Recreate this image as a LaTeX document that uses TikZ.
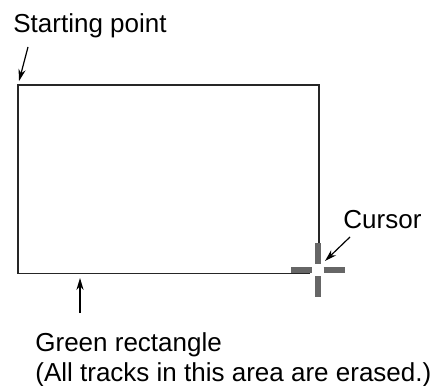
\documentclass[tikz,border=0pt]{standalone}
\usepackage{fontspec}
\setmainfont{Liberation Sans}
\usetikzlibrary{arrows.meta}

\begin{document}
\begin{tikzpicture}[x=0.5pt,y=-0.5pt,
  lbl/.style={font=\fontsize{13}{15}\selectfont,inner sep=0pt,anchor=base west,align=left},
  ptr/.style={-{Stealth[length=6pt,width=3.6pt]},line width=0.6pt},
  rim/.style={line width=0.75pt,black!85},
  bar/.style={line width=3pt,black!60}]
\useasboundingbox (0,0) rectangle (437,385);
% area corners
\coordinate (tl) at (18,85);
\coordinate (tr) at (319,85);
\coordinate (bl) at (18,273.5);
\coordinate (be) at (310,273.5);
\coordinate (re) at (319,262);
\coordinate (cur) at (317.5,270);
\draw[rim] (be) -- (bl) -- (tl) -- (tr) -- (re);
% cursor
\foreach \a in {0,90,180,270}
  \draw[bar] ([shift={(\a:6)}]cur) -- ([shift={(\a:27)}]cur);
% labels
\node[lbl] (startlbl) at (13,33) {Starting point};
\node[lbl] (curlbl) at (343,228) {Cursor};
\node[lbl] (greenlbl) at (35,381) {Green rectangle\\(All tracks in this area are erased.)};
\coordinate (s0) at (28,47);
\coordinate (c0) at (350,237);
\coordinate (c1) at (325,261);
\coordinate (g0) at (80,313);
\coordinate (g1) at (80,278);
\draw[ptr,shorten >=2pt] (s0) -- (tl);
\draw[ptr] (c0) -- (c1);
\draw[ptr] (g0) -- (g1);
\end{tikzpicture}
\end{document}
